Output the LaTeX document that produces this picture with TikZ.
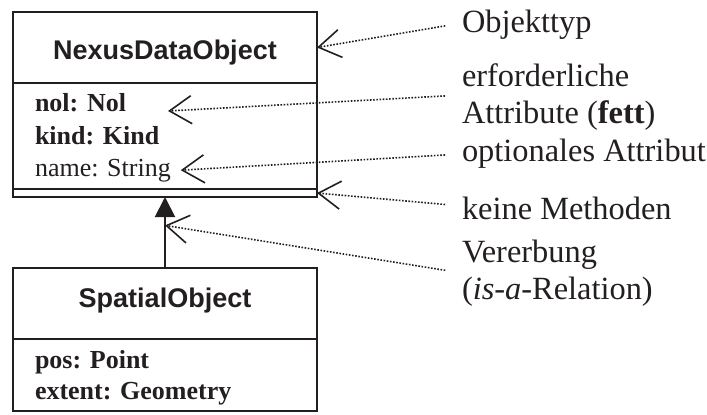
\documentclass[tikz,border=0pt]{standalone}
\usepackage{fontspec}
\setmainfont{Liberation Serif}
\setsansfont{Liberation Sans}
\usetikzlibrary{arrows.meta,positioning}
\definecolor{ink}{RGB}{35,31,32}

\begin{document}
\begin{tikzpicture}[x=0.5pt, y=-0.5pt,
        every node/.style={text=ink, inner sep=0pt, outer sep=0pt},
        part/.style={draw=ink, line width=1.1pt, minimum width=152pt},
        cname/.style={anchor=base, font=\sffamily\bfseries\fontsize{13.5}{16}\selectfont},
        attr/.style={anchor=base west, font=\fontsize{13}{15}\selectfont},
        note/.style={anchor=west, align=left, font=\fontsize{16.2}{18.6}\selectfont},
        hint/.style={draw=ink, dash pattern=on 0.8pt off 0.8pt, line width=0.8pt, shorten <=8.5pt,
            -{Straight Barb[length=11pt, width=14pt, line width=0.8pt]}},
        isa/.style={draw=ink, line width=1pt, -{Triangle[length=10pt, width=10pt]}}]
    \useasboundingbox (0,0) rectangle (707,414);

    % NexusDataObject
    \node[part, minimum height=35.5pt] (ndoHead) at (165,47.5) {};
    \node[part, minimum height=53pt, below=0pt of ndoHead] (ndoAttr) {};
    \node[part, minimum height=4pt, below=0pt of ndoAttr] (ndoOps) {};
    \node[cname] (ndoName) at (165,59) {NexusDataObject};
    \node[attr, font=\bfseries\fontsize{13}{15}\selectfont] (nol) at (35,111) {nol: Nol};
    \node[attr, font=\bfseries\fontsize{13}{15}\selectfont] (kind) at (35,144) {kind: Kind};
    \node[attr] (name) at (35,176) {name: String};

    % SpatialObject
    \node[part, minimum height=35.5pt] (spoHead) at (165,303.5) {};
    \node[part, minimum height=36pt, below=0pt of spoHead] (spoAttr) {};
    \node[cname] (spoName) at (165,307) {SpatialObject};
    \node[attr, font=\bfseries\fontsize{13}{15}\selectfont] (pos) at (35,368) {pos: Point};
    \node[attr, font=\bfseries\fontsize{13}{15}\selectfont] (extent) at (35,399) {extent: Geometry};

    \draw[isa] (spoHead.north) -- coordinate[pos=0.6] (isaLine) (ndoOps.south);

    % Erklaerungen
    \node[note] (lblType) at (462,25) {Objekttyp};
    \node[note] (lblReq) at (462,97) {erforderliche\\Attribute (\textbf{fett})};
    \node[note] (lblOpt) at (462,154) {optionales Attribut};
    \node[note] (lblOps) at (462,208) {keine Methoden};
    \node[note] (lblIsa) at (462,273) {Vererbung\\(\textit{is}-\textit{a}-Relation)};

    \draw[hint] ([yshift=1pt]lblType.west) -- (ndoHead.east);
    \draw[hint] ([yshift=1pt]lblReq.west) -- ([xshift=21pt]nol.base east);
    \draw[hint] (lblOpt.west) -- ([xshift=5pt]name.east);
    \draw[hint] ([yshift=1pt]lblOps.west) -- (ndoOps.east);
    \draw[hint] (lblIsa.west) -- (isaLine);
\end{tikzpicture}
\end{document}
